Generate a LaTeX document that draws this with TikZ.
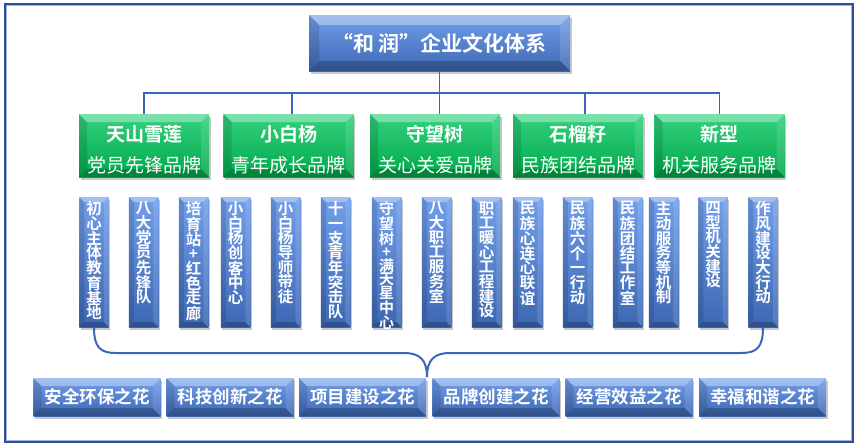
\documentclass[tikz,border=0pt]{standalone}
\usepackage{fontspec}
\setmainfont{Noto Sans CJK SC}[BoldFont={Noto Sans CJK SC Bold}]
\usetikzlibrary{shadows,calc}
\definecolor{bTop}{HTML}{729FEA}
\definecolor{bBot}{HTML}{3C67B3}
\definecolor{gTop}{HTML}{34D27E}
\definecolor{gBot}{HTML}{00A84A}
\definecolor{lineC}{HTML}{3A66BC}
\definecolor{frameD}{HTML}{2B4E96}
\definecolor{frameL}{HTML}{9DB5E0}
\tikzset{
  bevel/.style={path picture={
    \fill[white,opacity=.35] (path picture bounding box.north west) -- (path picture bounding box.north east)
      -- ([shift={(-#1pt,-#1pt)}]path picture bounding box.north east) -- ([shift={(#1pt,-#1pt)}]path picture bounding box.north west) -- cycle;
    \fill[black,opacity=.12] (path picture bounding box.north west) -- ([shift={(#1pt,-#1pt)}]path picture bounding box.north west)
      -- ([shift={(#1pt,#1pt)}]path picture bounding box.south west) -- (path picture bounding box.south west) -- cycle;
    \fill[white,opacity=.12] (path picture bounding box.north east) -- ([shift={(-#1pt,-#1pt)}]path picture bounding box.north east)
      -- ([shift={(-#1pt,#1pt)}]path picture bounding box.south east) -- (path picture bounding box.south east) -- cycle;
    \fill[black,opacity=.22] (path picture bounding box.south west) -- ([shift={(#1pt,#1pt)}]path picture bounding box.south west)
      -- ([shift={(-#1pt,#1pt)}]path picture bounding box.south east) -- (path picture bounding box.south east) -- cycle;
  }},
  boxbase/.style={draw=none, inner sep=0pt, text=white,
    drop shadow={shadow xshift=1.5pt, shadow yshift=-2.5pt, opacity=.3, fill=black!70}},
  bluebox/.style={boxbase, top color=bTop, bottom color=bBot, bevel=#1},
  bluebox/.default=6,
  greenbox/.style={boxbase, top color=gTop, bottom color=gBot, bevel=#1},
  greenbox/.default=8,
  topbox/.style={bluebox=10, minimum width=261pt, minimum height=56pt, font=\fontsize{21}{24}\selectfont\bfseries},
  brandbox/.style={greenbox=8, minimum width=130pt, minimum height=63pt, align=center,
    font=\fontsize{19}{31}\selectfont},
  itembox/.style={bluebox=5, minimum width=29.5pt, minimum height=130pt, font=\fontsize{15.5}{14.7}\selectfont\bfseries},
  flowerbox/.style={bluebox=8, minimum width=127pt, minimum height=38pt, font=\fontsize{17.5}{20}\selectfont\bfseries},
  conn/.style={draw=lineC, line width=1.4pt},
  bracel/.style={draw=lineC, line width=2pt},
}
\newcommand{\vcol}[2][121pt]{\parbox[c][#1][t]{22pt}{\centering #2}}
\newcommand{\brand}[2]{\rule{0pt}{24.5pt}{\bfseries #1}\\#2}
\begin{document}
\begin{tikzpicture}[x=1pt,y=-1pt]
\useasboundingbox (0,0) rectangle (859,447);
\fill[white] (0,0) rectangle (859,447);
\draw[frameD, line width=2pt] (5,4) rectangle (853,442);
\draw[frameL, line width=1pt] (6.8,5.8) rectangle (851.2,440.2);

% top
\node[topbox] (top) at (439.5,43) {“和 润”企业文化体系};

% brands
\node[brandbox] (g1) at (144,145.5) {\brand{天山雪莲}{党员先锋品牌}};
\node[brandbox] (g2) at (288.5,145.5) {\brand{小白杨}{青年成长品牌}};
\node[brandbox] (g3) at (435,145.5) {\brand{守望树}{关心关爱品牌}};
\node[brandbox] (g4) at (578,145.5) {\brand{石榴籽}{民族团结品牌}};
\node[brandbox] (g5) at (719.5,145.5) {\brand{新型}{机关服务品牌}};

\draw[conn] (top.south) |- ($(g1.north)+(0,-21)$) -- (g1.north);
\draw[conn] (top.south) |- ($(g2.north)+(3.5,-21)$) -- ([xshift=3.5pt]g2.north);
\draw[conn] (top.south) -- (top.south |- g3.north);
\draw[conn] (top.south) |- ($(g4.north)+(7,-21)$) -- ([xshift=7pt]g4.north);
\draw[conn] (top.south) |- ($(g5.north)+(0,-21)$) -- (g5.north);

% items
\node[itembox] (v1) at (94,262) {\vcol{初\\心\\主\\体\\教\\育\\基\\地}};
\node[itembox] (v2) at (143.5,262) {\vcol{八\\大\\党\\员\\先\\锋\\队}};
\node[itembox] (v3) at (193.5,262) {\vcol{培\\育\\站\\+\\红\\色\\走\\廊}};
\node[itembox] (v4) at (235.5,262) {\vcol{小\\白\\杨\\创\\客\\中\\心}};
\node[itembox] (v5) at (285.5,262) {\vcol{小\\白\\杨\\导\\师\\带\\徒}};
\node[itembox] (v6) at (335.5,262) {\vcol{十\\一\\支\\青\\年\\突\\击\\队}};
\node[itembox] (v7) at (386.5,262) {\fontsize{15}{13.4}\selectfont\vcol{守\\望\\树\\+\\满\\天\\星\\中\\心}};
\node[itembox] (v8) at (436.5,262) {\vcol{八\\大\\职\\工\\服\\务\\室}};
\node[itembox] (v9) at (486.5,262) {\vcol{职\\工\\暖\\心\\工\\程\\建\\设}};
\node[itembox] (v10) at (527.5,262) {\vcol{民\\族\\心\\连\\心\\联\\谊}};
\node[itembox] (v11) at (577.5,262) {\vcol{民\\族\\六\\个\\一\\行\\动}};
\node[itembox] (v12) at (627.5,262) {\vcol{民\\族\\团\\结\\工\\作\\室}};
\node[itembox] (v13) at (663.5,262) {\vcol{主\\动\\服\\务\\等\\机\\制}};
\node[itembox] (v14) at (713,262) {\vcol{四\\型\\机\\关\\建\\设}};
\node[itembox] (v15) at (763,262) {\vcol{作\\风\\建\\设\\大\\行\\动}};

% flowers
\node[flowerbox] (b1) at (97,397) {安全环保之花};
\node[flowerbox] (b2) at (230,397) {科技创新之花};
\node[flowerbox] (b3) at (362.5,397) {项目建设之花};
\node[flowerbox] (b4) at (496,397) {品牌创建之花};
\node[flowerbox] (b5) at (629,397) {经营效益之花};
\node[flowerbox] (b6) at (762.5,397) {幸福和谐之花};

% brace
\coordinate (tip) at (427,377);
\draw[bracel] (v1.south) .. controls ($(v1.south)+(0,20)$) and (100,353) .. (116,353) -- (404,353)
  .. controls (420,353) and (427,360) .. (tip);
\draw[bracel] (tip) .. controls (427,360) and (434,353) .. (450,353) -- (741,353)
  .. controls (757,353) and ($(v15.south)+(0,20)$) .. (v15.south);
\end{tikzpicture}
\end{document}
